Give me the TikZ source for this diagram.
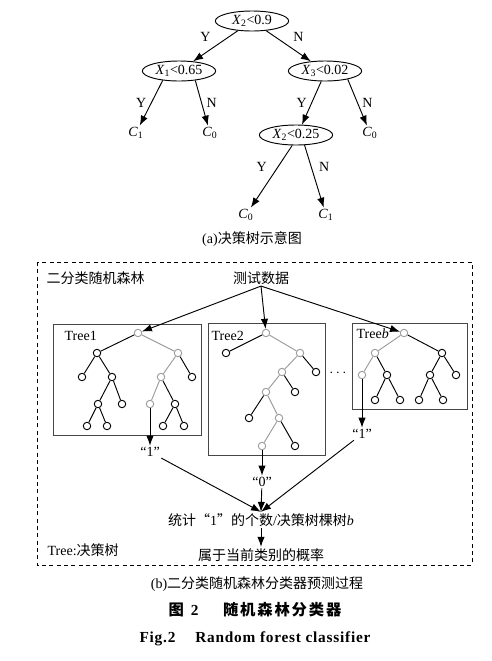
\documentclass[tikz,border=0pt]{standalone}
\usepackage{fontspec}
\setmainfont{Liberation Serif}
\newfontfamily\cjk{Noto Sans CJK SC}
\newfontfamily\cjkcap[LetterSpace=12]{Noto Sans CJK SC}
\newfontfamily\figcap[LetterSpace=5]{Liberation Serif}
\usetikzlibrary{arrows.meta,shapes.geometric}
\definecolor{pathgray}{RGB}{155,155,155}
\definecolor{boxgray}{RGB}{70,70,70}
\newcommand{\vx}[2]{\textit{#1}\textsubscript{#2}}
\tikzset{cond/.style = {shape=ellipse,draw,line width=0.7pt,minimum width=55pt,minimum height=15pt,inner sep=0pt}}
\tikzset{edge/.style = {->,> = {Latex[length=7.5pt,width=5.5pt]},line width=0.7pt}}
\tikzset{vertex/.style = {shape=circle,draw,line width=0.7pt,minimum size=5.6pt,inner sep=0pt}}
\tikzset{gvertex/.style = {vertex,draw=pathgray}}
\tikzset{branch/.style = {line width=0.7pt}}
\tikzset{gbranch/.style = {branch,draw=pathgray}}
\tikzset{treebox/.style = {draw=boxgray,line width=0.65pt,inner sep=0pt}}
\tikzset{txt/.style = {inner sep=1pt}}

\begin{document}
\begin{tikzpicture}[x=0.75pt,y=-0.75pt,font=\fontsize{10.5}{12}\selectfont]
	\useasboundingbox (0,0) rectangle (492,661);
	
	% (a) decision tree
	\node[cond] (root) at (252,21) {\vx{X}{2}<0.9};
	\node[cond] (x1) at (179,71) {\vx{X}{1}<0.65};
	\node[cond] (x3) at (325,71) {\vx{X}{3}<0.02};
	\node[cond] (x2b) at (296,135) {\vx{X}{2}<0.25};
	\node[txt] (c1a) at (136,133) {\vx{C}{1}};
	\node[txt] (c0a) at (210,133) {\vx{C}{0}};
	\node[txt] (c0b) at (370,133) {\vx{C}{0}};
	\node[txt] (c0c) at (246,215) {\vx{C}{0}};
	\node[txt] (c1c) at (326,215) {\vx{C}{1}};
	
	\draw[edge] (root) -- node[above left] {Y} (x1);
	\draw[edge] (root) -- node[above right] {N} (x3);
	\draw[edge] (x1.210) -- node[left] {Y} (c1a);
	\draw[edge] (x1.330) -- node[right] {N} (c0a);
	\draw[edge] (x3.250) -- node[left] {Y} (x2b.60);
	\draw[edge] (x3.340) -- node[right] {N} (c0b);
	\draw[edge] (x2b.250) -- node[above left] {Y} (c0c);
	\draw[edge] (x2b.310) -- node[above right] {N} (c1c);
	
	\node (capa) at (252,239) {(a){\cjk 决策树示意图}};
	
	% (b) random forest
	\draw[line width=0.7pt,dash pattern=on 3pt off 2.5pt] (37,262) rectangle (472,565);
	\node[txt,anchor=west] (title) at (45,278) {\cjk 二分类随机森林};
	\node[txt] (data) at (261,278) {\cjk 测试数据};
	
	\node[treebox,minimum width=111pt,minimum height=83.25pt] (box1) at (127,379.5) {};
	\node[treebox,minimum width=87.75pt,minimum height=99pt] (box2) at (266.5,389) {};
	\node[treebox,minimum width=86.25pt,minimum height=64.5pt] (box3) at (409.5,366) {};
	\node[txt,anchor=west] (n1) at (63,336) {Tree1};
	\node[txt,anchor=west] (n2) at (210,336) {Tree2};
	\node[txt,anchor=west] (n3) at (355,334) {Tree\textit{b}};
	\node (dots) at (338,373) {$\cdots$};
	
	% Tree1
	\node[gvertex] (a) at (138,333) {};
	\node[vertex] (aL) at (97,353) {};
	\node[gvertex] (aR) at (178,353) {};
	\node[vertex] (aLL) at (82,377) {};
	\node[vertex] (aLR) at (112,377) {};
	\node[gvertex] (aRL) at (161,377) {};
	\node[vertex] (aRR) at (192,377) {};
	\node[vertex] (aLRL) at (98,404) {};
	\node[vertex] (aLRR) at (122,404) {};
	\node[gvertex] (aRLL) at (150,404) {};
	\node[vertex] (aRLR) at (175,404) {};
	\node[vertex] (aLRLL) at (87,426) {};
	\node[vertex] (aLRLR) at (107,426) {};
	\node[vertex] (aRLRL) at (163,426) {};
	\node[vertex] (aRLRR) at (184,426) {};
	
	\draw[gbranch] (a) -- (aR);
	\draw[gbranch] (aR) -- (aRL);
	\draw[gbranch] (aRL) -- (aRLL);
	\draw[branch] (a) -- (aL);
	\draw[branch] (aL) -- (aLL);
	\draw[branch] (aL) -- (aLR);
	\draw[branch] (aLR) -- (aLRL);
	\draw[branch] (aLR) -- (aLRR);
	\draw[branch] (aLRL) -- (aLRLL);
	\draw[branch] (aLRL) -- (aLRLR);
	\draw[branch] (aR) -- (aRR);
	\draw[branch] (aRL) -- (aRLR);
	\draw[branch] (aRLR) -- (aRLRL);
	\draw[branch] (aRLR) -- (aRLRR);
	
	% Tree2
	\node[gvertex] (b) at (266,333) {};
	\node[vertex] (bL) at (226,353) {};
	\node[gvertex] (bR) at (300,353) {};
	\node[gvertex] (bRL) at (282,372) {};
	\node[vertex] (bRR) at (316,372) {};
	\node[gvertex] (bRLL) at (266,392) {};
	\node[vertex] (bRLR) at (295,392) {};
	\node[vertex] (bRLLL) at (249,418) {};
	\node[gvertex] (bRLLR) at (279,418) {};
	\node[gvertex] (bRLLRL) at (262,446) {};
	\node[vertex] (bRLLRR) at (295,446) {};
	
	\draw[gbranch] (b) -- (bR);
	\draw[gbranch] (bR) -- (bRL);
	\draw[gbranch] (bRL) -- (bRLL);
	\draw[gbranch] (bRLL) -- (bRLLR);
	\draw[gbranch] (bRLLR) -- (bRLLRL);
	\draw[branch] (b) -- (bL);
	\draw[branch] (bR) -- (bRR);
	\draw[branch] (bRL) -- (bRLR);
	\draw[branch] (bRLL) -- (bRLLL);
	\draw[branch] (bRLLR) -- (bRLLRR);
	
	% Treeb
	\node[gvertex] (c) at (404,333) {};
	\node[gvertex] (cL) at (375,353) {};
	\node[vertex] (cR) at (442,353) {};
	\node[gvertex] (cLL) at (362,375) {};
	\node[vertex] (cLR) at (387,375) {};
	\node[vertex] (cRL) at (430,375) {};
	\node[vertex] (cRR) at (456,375) {};
	\node[vertex] (cLRL) at (375,400) {};
	\node[vertex] (cLRR) at (400,400) {};
	\node[vertex] (cRLL) at (419,400) {};
	\node[vertex] (cRLR) at (443,400) {};
	
	\draw[gbranch] (c) -- (cL);
	\draw[gbranch] (cL) -- (cLL);
	\draw[branch] (c) -- (cR);
	\draw[branch] (cL) -- (cLR);
	\draw[branch] (cLR) -- (cLRL);
	\draw[branch] (cLR) -- (cLRR);
	\draw[branch] (cR) -- (cRL);
	\draw[branch] (cR) -- (cRR);
	\draw[branch] (cRL) -- (cRLL);
	\draw[branch] (cRL) -- (cRLR);
	
	% data to trees
	\draw[edge] (data.south) -- (a);
	\draw[edge] (data.south) -- (b);
	\draw[edge] (data.south) -- (c);
	
	% votes
	\node[txt] (r1) at (150,452) {“1”};
	\node[txt] (r2) at (262,482) {“0”};
	\node[txt] (r3) at (362,434) {“1”};
	\draw[edge] (aRLL) -- (r1);
	\draw[edge] (bRLLRL) -- (r2);
	\draw[edge] (cLL) -- (r3);
	
	\node[txt] (count) at (261,520) {{\cjk 统计“}1{\cjk ”的个数}/{\cjk 决策树棵树}\textit{b}};
	\node[txt] (prob) at (261,555) {\cjk 属于当前类别的概率};
	\draw[edge] (r1) -- (count.north);
	\draw[edge] (r2) -- (count.north);
	\draw[edge] (r3) -- (count.north);
	\draw[edge] (count) -- (prob);
	\node[txt,anchor=west] (legend) at (46,550) {Tree:{\cjk 决策树}};
	
	% captions
	\node (capb) at (257,584) {(b){\cjk 二分类随机森林分类器预测过程}};
	\node[font=\fontsize{11.5}{13}\selectfont\bfseries] (fig) at (255,610) {{\cjkcap 图}\hspace{0.45em}2\hspace{1.6em}{\cjkcap 随机森林分类器}};
	\node[font=\fontsize{11.5}{13}\selectfont\figcap\bfseries] (figen) at (255,639) {Fig.2\hspace{1.3em}Random forest classifier};
\end{tikzpicture}
\end{document}
